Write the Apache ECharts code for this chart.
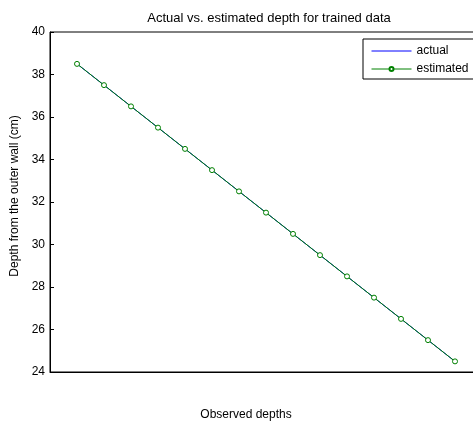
<!DOCTYPE html>
<html>
<head>
<meta charset="utf-8">
<script src="https://cdn.jsdelivr.net/npm/echarts@6/dist/echarts.min.js"></script>
<style>
html,body{margin:0;padding:0;background:#fff;}
#chart{width:473px;height:421px;}
</style>
</head>
<body>
<div id="chart"></div>
<script>
const sampleIndex = [1, 2, 3, 4, 5, 6, 7, 8, 9, 10, 11, 12, 13, 14, 15];
const actualDepth = [38.5, 37.5, 36.5, 35.5, 34.5, 33.5, 32.5, 31.5, 30.5, 29.5, 28.5, 27.5, 26.5, 25.5, 24.5];
const estimatedDepth = [38.5, 37.5, 36.5, 35.5, 34.5, 33.5, 32.5, 31.5, 30.5, 29.5, 28.5, 27.5, 26.5, 25.5, 24.5];
const yTicks = [24, 26, 28, 30, 32, 34, 36, 38, 40];
const titleText = 'Actual vs. estimated depth for trained data';
const xLabel = 'Observed depths';
const yLabel = 'Depth from the outer wall (cm)';
const seriesNames = ['actual', 'estimated'];

const font = 'Liberation Sans, Arial, Helvetica, sans-serif';
const chart = echarts.init(document.getElementById('chart'), null, {renderer: 'canvas'});
chart.setOption({
  animation: false,
  backgroundColor: '#fff',
  textStyle: {fontFamily: font},
  title: {
    text: titleText,
    left: 264, top: 7, textAlign: 'center',
    textStyle: {fontSize: 13, fontWeight: 'normal', color: '#000', fontFamily: font}
  },
  grid: {
    left: 50, top: 32, width: 432, height: 340,
    outerBoundsMode: 'none', containLabel: false,
    show: true, borderColor: '#000', borderWidth: 1, backgroundColor: '#fff'
  },
  xAxis: {
    type: 'value', min: 0, max: 16,
    axisLine: {show: true, onZero: false, lineStyle: {color: '#000', width: 1}},
    axisTick: {show: false}, axisLabel: {show: false}, splitLine: {show: false}
  },
  yAxis: {
    type: 'value', min: yTicks[0], max: yTicks[yTicks.length - 1], interval: 2,
    axisLine: {show: true, lineStyle: {color: '#000', width: 1}},
    axisTick: {show: true, inside: true, length: 4, lineStyle: {color: '#000'}},
    axisLabel: {fontSize: 12, color: '#000', margin: 5, fontFamily: font},
    splitLine: {show: false}
  },
  legend: {
    orient: 'vertical', left: 363, top: 39,
    backgroundColor: '#fff', borderColor: '#000', borderWidth: 1,
    padding: [6, 20, 4, 8], itemGap: 6, itemWidth: 40, itemHeight: 5,
    lineStyle: {width: 1},
    textStyle: {fontSize: 12, color: '#000', fontFamily: font},
    data: [
      {name: seriesNames[0], itemStyle: {opacity: 0}},
      {name: seriesNames[1]}
    ]
  },
  graphic: [
    {type: 'text', x: 246, y: 415, style: {text: xLabel, font: '12px ' + font, fill: '#000', align: 'center', verticalAlign: 'middle'}},
    {type: 'text', x: 15, y: 196, rotation: Math.PI / 2, style: {text: yLabel, font: '12px ' + font, fill: '#000', align: 'center', verticalAlign: 'middle'}}
  ],
  series: [
    {
      name: seriesNames[0], type: 'line',
      data: sampleIndex.map((x, i) => [x, actualDepth[i]]),
      symbol: 'none', lineStyle: {color: '#0000ff', width: 1}, itemStyle: {color: '#0000ff'}, z: 2
    },
    {
      name: seriesNames[1], type: 'line',
      data: sampleIndex.map((x, i) => [x, estimatedDepth[i]]),
      symbol: 'circle', symbolSize: 5,
      lineStyle: {color: '#008000', width: 1},
      itemStyle: {color: '#ffffff', borderColor: '#008000', borderWidth: 1},
      z: 3
    }
  ]
});
</script>
</body>
</html>
